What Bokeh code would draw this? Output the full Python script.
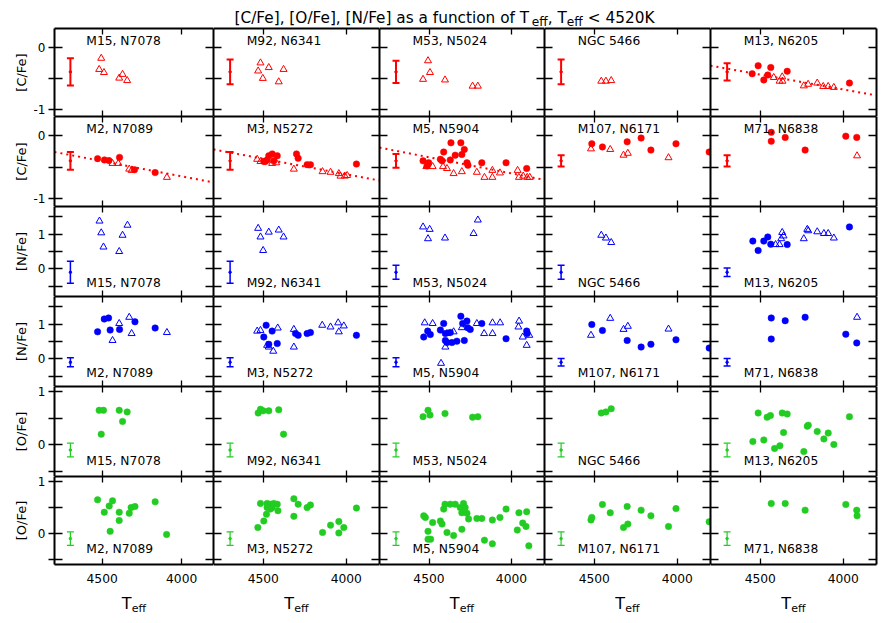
import math
from bokeh.plotting import figure
from bokeh.layouts import gridplot, column, row
from bokeh.models import (Range1d, LinearAxis, FixedTicker, Label, Whisker,
                          TeeHead, ColumnDataSource)
from bokeh.embed import file_html
from bokeh.resources import INLINE
from bokeh.core.properties import value

# ---------------------------------------------------------------- data
TOP_NAMES = ["M15, N7078", "M92, N6341", "M53, N5024", "NGC 5466", "M13, N6205"]
BOT_NAMES = ["M2, N7089", "M3, N5272", "M5, N5904", "M107, N6171", "M71, N6838"]

T_TICKS = [4500, 4000]
C_TICKS = [-1, -0.5, 0]
N_TICKS = [-0.5, 0, 0.5, 1, 1.5]
O_TICKS = [-0.5, 0, 0.5, 1]
C_LABELS = {-1: "-1", -0.5: "", 0: "0"}
N_LABELS = {-0.5: "", 0: "0", 0.5: "", 1: "1", 1.5: ""}
O_LABELS = {-0.5: "", 0: "0", 0.5: "", 1: "1"}

# representative error bars (Teff position, centre, half lengths per panel)
ERR_T = 4700
ERR_CENTER = {"C": -0.4, "N": -0.1, "O": -0.1}
C_ERR_TOP = [0.22, 0.20, 0.18, 0.20, 0.14]
C_ERR_BOT = [0.14, 0.14, 0.11, 0.09, 0.09]
N_ERR_TOP = [0.32, 0.32, 0.20, 0.20, 0.12]
N_ERR_BOT = [0.13, 0.13, 0.13, 0.11, 0.11]
O_ERR_TOP = [0.13, 0.13, 0.13, 0.13, 0.13]
O_ERR_BOT = [0.13, 0.13, 0.13, 0.13, 0.13]

# linear fits ([C/Fe] at the two ends of the Teff axis)
FIT_T = [4800, 3800]
FIT_M13 = [-0.30, -0.78]
FIT_M2 = [-0.26, -0.74]
FIT_M3 = [-0.22, -0.71]
FIT_M5 = [-0.19, -0.70]

M15 = dict(
    C_tri_T=[4519, 4506, 4489, 4393, 4372, 4343],
    C_tri=[-0.36, -0.18, -0.41, -0.50, -0.44, -0.54],
    N_tri_T=[4517, 4506, 4492, 4393, 4372, 4341],
    N_tri=[1.38, 1.04, 0.63, 0.50, 0.97, 1.26],
    O_circ_T=[4519, 4492, 4506, 4393, 4372, 4343],
    O_circ=[0.65, 0.65, 0.20, 0.65, 0.44, 0.62],
)
M92 = dict(
    C_tri_T=[4517, 4531, 4503, 4467, 4407, 4378],
    C_tri=[-0.255, -0.385, -0.505, -0.33, -0.56, -0.36],
    N_tri_T=[4531, 4517, 4501, 4467, 4407, 4378],
    N_tri=[1.17, 0.92, 0.53, 1.06, 1.12, 0.92],
    O_circ_T=[4531, 4517, 4501, 4467, 4407, 4378],
    O_circ=[0.60, 0.67, 0.64, 0.64, 0.66, 0.20],
)
M53 = dict(
    C_tri_T=[4506, 4536, 4494, 4403, 4236, 4204],
    C_tri=[-0.22, -0.52, -0.41, -0.53, -0.63, -0.63],
    N_tri_T=[4536, 4496, 4506, 4403, 4230, 4204],
    N_tri=[1.21, 1.14, 0.87, 0.89, 1.02, 1.41],
    O_circ_T=[4536, 4506, 4494, 4403, 4236, 4204],
    O_circ=[0.53, 0.65, 0.56, 0.59, 0.52, 0.53],
)
NGC5466 = dict(
    C_tri_T=[4458, 4430, 4398],
    C_tri=[-0.55, -0.55, -0.54],
    N_tri_T=[4458, 4430, 4398],
    N_tri=[0.97, 0.89, 0.76],
    O_circ_T=[4458, 4430, 4398],
    O_circ=[0.60, 0.62, 0.68],
)
M13 = dict(
    C_circ_T=[4513, 4549, 4479, 4455, 4437, 4338, 3963],
    C_circ=[-0.30, -0.43, -0.53, -0.45, -0.33, -0.39, -0.58],
    C_tri_T=[4419, 4384, 4368, 4366, 4238, 4212, 4157, 4121, 4091, 4057],
    C_tri=[-0.49, -0.55, -0.48, -0.55, -0.625, -0.60, -0.58, -0.635, -0.635, -0.65],
    N_circ_T=[4545, 4513, 4479, 4455, 4437, 4338, 3963],
    N_circ=[0.80, 0.53, 0.80, 0.92, 0.71, 0.70, 1.21],
    N_tri_T=[4408, 4384, 4374, 4368, 4360, 4238, 4217, 4211, 4157, 4117, 4091, 4057],
    N_tri=[0.70, 0.70, 0.87, 1.05, 0.95, 0.87, 1.14, 1.10, 1.07, 1.02, 1.02, 0.89],
    O_circ_T=[4513, 4459, 4439, 4368, 4338, 4360, 4545, 4479, 4414, 4382, 4238,
              4217, 4211, 4157, 4117, 4091, 4057, 3963],
    O_circ=[0.60, 0.52, 0.55, 0.60, 0.58, 0.23, 0.06, 0.09, -0.07, -0.02, -0.13,
            0.35, 0.37, 0.25, 0.11, 0.22, 0.005, 0.53],
)
M2 = dict(
    C_circ_T=[4529, 4486, 4458, 4391, 4297, 4167],
    C_circ=[-0.365, -0.385, -0.395, -0.345, -0.54, -0.585],
    C_tri_T=[4435, 4399, 4330, 4315, 4093],
    C_tri=[-0.44, -0.44, -0.53, -0.55, -0.66],
    N_circ_T=[4529, 4487, 4460, 4450, 4391, 4294, 4167],
    N_circ=[0.78, 1.15, 1.18, 0.83, 0.85, 1.07, 0.89],
    N_tri_T=[4435, 4393, 4330, 4315, 4093],
    N_tri=[0.53, 1.02, 1.20, 0.73, 0.76],
    O_circ_T=[4529, 4487, 4456, 4435, 4450, 4393, 4393, 4330, 4318, 4294, 4167, 4095],
    O_circ=[0.65, 0.41, 0.53, 0.63, 0.04, 0.41, 0.25, 0.39, 0.50, 0.52, 0.61, -0.02],
)
M3 = dict(
    C_circ_T=[4497, 4488, 4477, 4467, 4446, 4437, 4416, 4300, 4290, 4236, 4216, 3939],
    C_circ=[-0.41, -0.41, -0.385, -0.32, -0.29, -0.40, -0.32, -0.29, -0.36, -0.46, -0.46, -0.45],
    C_tri_T=[4537, 4517, 4447, 4422, 4316, 4143, 4095, 4045, 4035, 4009, 3995],
    C_tri=[-0.375, -0.41, -0.44, -0.43, -0.53, -0.57, -0.58, -0.60, -0.64, -0.64, -0.63],
    N_circ_T=[4483, 4497, 4447, 4467, 4416, 4306, 4290, 4236, 4216, 3939],
    N_circ=[0.97, 0.63, 0.80, 0.42, 0.44, 0.73, 0.68, 0.73, 0.76, 0.68],
    N_tri_T=[4537, 4517, 4477, 4467, 4440, 4413, 4316, 4316, 4145, 4095, 4049, 4045, 4015],
    N_tri=[0.80, 0.82, 0.39, 0.34, 0.22, 0.89, 0.85, 0.34, 0.97, 0.92, 1.04, 0.78, 0.95],
    O_circ_T=[4533, 4497, 4481, 4517, 4477, 4457, 4447, 4437, 4416, 4412, 4457, 4477,
              4316, 4316, 4290, 4236, 4216, 4143, 4095, 4045, 4045, 4015, 3939],
    O_circ=[0.115, 0.24, 0.37, 0.58, 0.58, 0.565, 0.50, 0.58, 0.565, 0.44, 0.47, 0.50,
            0.67, 0.33, 0.565, 0.50, 0.55, 0.02, 0.16, 0.23, 0.01, 0.115, 0.49],
)
M5 = dict(
    C_circ_T=[4536, 4512, 4502, 4431, 4411, 4421, 4367, 4307, 4286, 4301, 4341, 4371,
              4270, 4264, 4180, 4033, 3908],
    C_circ=[-0.40, -0.48, -0.43, -0.375, -0.26, -0.40, -0.115, -0.115, -0.22, -0.30,
            -0.31, -0.385, -0.43, -0.47, -0.43, -0.43, -0.52],
    C_tri_T=[4516, 4478, 4415, 4391, 4351, 4301, 4210, 4164, 4116, 4116, 4070, 3963,
             3955, 3929, 3905, 3889],
    C_tri=[-0.49, -0.49, -0.49, -0.52, -0.60, -0.57, -0.58, -0.66, -0.66, -0.55, -0.59,
           -0.55, -0.66, -0.64, -0.66, -0.66],
    N_circ_T=[4532, 4508, 4492, 4431, 4411, 4401, 4401, 4391, 4371, 4361, 4331, 4307,
              4296, 4286, 4270, 4266, 4250, 4180, 4033, 3908, 3905],
    N_circ=[0.63, 0.80, 0.70, 0.83, 1.02, 0.73, 0.53, 0.47, 0.76, 0.47, 0.51, 1.23,
            1.02, 0.53, 1.09, 0.90, 0.85, 1.02, 0.58, 0.80, 0.73],
    N_tri_T=[4526, 4478, 4427, 4401, 4391, 4351, 4301, 4210, 4166, 4115, 4115, 4069,
             3954, 3958, 3932, 3892, 3908],
    N_tri=[1.04, 1.02, -0.13, 0.34, 0.73, 0.78, 0.90, 1.02, 0.73, 1.04, 0.73, 1.04,
           1.09, 0.92, 0.63, 0.68, 0.39],
    O_circ_T=[4532, 4522, 4506, 4506, 4490, 4478, 4431, 4421, 4411, 4403, 4391, 4371,
              4351, 4341, 4311, 4301, 4291, 4281, 4301, 4270, 4260, 4210, 4180, 4164,
              4116, 4116, 4070, 4033, 3965, 3955, 3932, 3912, 3908, 3895],
    O_circ=[0.34, 0.31, 0.04, -0.11, -0.11, 0.21, 0.24, 0.18, 0.47, 0.565, 0.02, 0.565,
            -0.04, 0.565, 0.50, 0.08, 0.58, 0.50, 0.40, 0.39, 0.28, 0.29, 0.29, -0.13,
            0.26, -0.20, 0.31, 0.47, 0.065, 0.40, 0.20, 0.135, 0.42, -0.24],
)
M107 = dict(
    C_circ_T=[4515, 4451, 4302, 4218, 4159, 4008, 3808],
    C_circ=[-0.13, -0.18, -0.10, -0.04, -0.23, -0.13, -0.26],
    C_tri_T=[4520, 4404, 4324, 4298, 4053],
    C_tri=[-0.21, -0.22, -0.31, -0.28, -0.35],
    N_circ_T=[4515, 4451, 4302, 4218, 4159, 4008, 3808],
    N_circ=[0.99, 0.82, 0.53, 0.34, 0.42, 0.55, 0.31],
    N_tri_T=[4520, 4404, 4324, 4298, 4053],
    N_tri=[0.68, 1.17, 0.85, 0.94, 0.86],
    O_circ_T=[4520, 4515, 4451, 4404, 4324, 4298, 4302, 4218, 4159, 4053, 4008, 3808],
    O_circ=[0.26, 0.31, 0.56, 0.40, 0.115, 0.18, 0.52, 0.45, 0.34, 0.135, 0.48, 0.225],
)
M71 = dict(
    C_circ_T=[4434, 4434, 4350, 4230, 3985, 3919],
    C_circ=[0.05, -0.09, -0.03, -0.23, -0.01, -0.03],
    C_tri_T=[3917],
    C_tri=[-0.32],
    N_circ_T=[4434, 4434, 4350, 4230, 3985, 3919],
    N_circ=[1.18, 0.57, 1.10, 1.20, 0.71, 0.46],
    N_tri_T=[3917],
    N_tri=[1.20],
    O_circ_T=[4434, 4350, 4230, 3985, 3919, 3917],
    O_circ=[0.58, 0.58, 0.45, 0.56, 0.45, 0.34],
)

TOP_DATA = [M15, M92, M53, NGC5466, M13]
BOT_DATA = [M2, M3, M5, M107, M71]
TOP_FITS = [None, None, None, None, FIT_M13]
BOT_FITS = [FIT_M2, FIT_M3, FIT_M5, None, None]

# ---------------------------------------------------------------- style
FONT = "DejaVu Sans"
COLORS = {"C": "#ff0000", "N": "#0000ff", "O": "#22cc22"}
ERR_W = {"C": 2.0, "N": 1.5, "O": 1.2}
YR = {"C": (-1.12, 0.3), "N": (-0.8, 1.8), "O": (-0.6, 1.1)}
YTICKS = {"C": (C_TICKS, C_LABELS), "N": (N_TICKS, N_LABELS), "O": (O_TICKS, O_LABELS)}
YTITLE = {"C": "[C/Fe]", "N": "[N/Fe]", "O": "[O/Fe]"}
KINDS = ["C", "C", "N", "N", "O", "O"]
NAME_Y = {"C": 0.1, "N": -0.4, "O": -0.3}
NAME_T = 4600
X_RANGE = (4800, 3800)

FW = [159, 166, 165, 166, 166]
FH = [88, 90, 90, 90, 90, 88]
YLAB_W = 30
LEFT0, RIGHT4, TOP0, BOTTOM5 = 24, 2, 1, 24
TITLE_H = 27
XLAB_H = 30

ADV = {' ': 0.318, '[': 0.390, ']': 0.390, 'C': 0.698, '/': 0.337, 'F': 0.575,
       'e': 0.615, ',': 0.318, 'O': 0.787, 'N': 0.748, 'a': 0.613, 's': 0.521,
       'f': 0.352, 'u': 0.634, 'n': 0.634, 'c': 0.550, 't': 0.392, 'i': 0.278,
       'o': 0.612, 'T': 0.611, '<': 0.838, 'K': 0.656}


def text_w(s, size):
    return sum(ADV.get(ch, 0.636) for ch in s) * size


def add_axis(p, side, ticks, overrides, show, t_in, t_out, size="12px", standoff=0):
    ax = LinearAxis(ticker=FixedTicker(ticks=ticks, minor_ticks=[]),
                    major_tick_in=t_in, major_tick_out=t_out,
                    minor_tick_in=0, minor_tick_out=0,
                    axis_line_color="black", axis_line_width=2,
                    major_tick_line_color="black", major_tick_line_width=1.3)
    if show:
        ax.major_label_overrides = overrides
        ax.major_label_text_font = FONT
        ax.major_label_text_font_size = size
        ax.major_label_text_color = "black"
        ax.major_label_standoff = standoff
    else:
        ax.major_label_overrides = {t: "" for t in ticks}
        ax.major_label_text_font_size = "0px"
        ax.major_label_standoff = 0
    p.add_layout(ax, side)


def blank_fig(w, h):
    f = figure(width=w, height=h, x_range=Range1d(0, w), y_range=Range1d(0, h),
               x_axis_location=None, y_axis_location=None, toolbar_location=None,
               output_backend="svg", min_border=0, outline_line_color=None,
               border_fill_color="white", background_fill_color="white")
    f.xgrid.visible = False
    f.ygrid.visible = False
    return f


def make_panel(r, c):
    kind = KINDS[r]
    top = (r % 2 == 0)
    names = TOP_NAMES if top else BOT_NAMES
    data = (TOP_DATA if top else BOT_DATA)[c]
    fit = (TOP_FITS if top else BOT_FITS)[c] if kind == "C" else None
    err = {"C": (C_ERR_TOP, C_ERR_BOT), "N": (N_ERR_TOP, N_ERR_BOT),
           "O": (O_ERR_TOP, O_ERR_BOT)}[kind][0 if top else 1][c]
    col = COLORS[kind]
    lo, hi = YR[kind]
    fw, fh = FW[c], FH[r]
    L = LEFT0 if c == 0 else 0
    R = RIGHT4 if c == 4 else 0
    T = TOP0 if r == 0 else 0
    B = BOTTOM5 if r == 5 else 0
    p = figure(width=fw + L + R, height=fh + T + B,
               x_range=Range1d(*X_RANGE), y_range=Range1d(lo, hi),
               x_axis_location=None, y_axis_location=None,
               toolbar_location=None, output_backend="svg",
               min_border_left=L, min_border_right=R,
               min_border_top=T, min_border_bottom=B,
               outline_line_color=None, background_fill_color="white",
               border_fill_color="white")
    p.xgrid.visible = False
    p.ygrid.visible = False
    yt, ylab = YTICKS[kind]
    add_axis(p, "left", yt, ylab, c == 0, 8, 6 if c == 0 else 0, standoff=3)
    add_axis(p, "right", yt, ylab, False, 8, 0)
    add_axis(p, "below", T_TICKS, {4500: "4500", 4000: "4000"}, r == 5, 6, 0,
             size="12.3px", standoff=9)
    add_axis(p, "above", T_TICKS, {}, False, 6, 0)

    if fit is not None:
        p.line(FIT_T, fit, line_color=col, line_width=2, line_dash="2 4")
    src = ColumnDataSource(dict(x=[ERR_T], lower=[ERR_CENTER[kind] - err],
                                upper=[ERR_CENTER[kind] + err]))
    w = ERR_W[kind]
    p.add_layout(Whisker(base="x", lower="lower", upper="upper", source=src,
                         dimension="height", line_color=col, line_width=w,
                         upper_head=TeeHead(size=7, line_color=col, line_width=w),
                         lower_head=TeeHead(size=7, line_color=col, line_width=w)))
    p.scatter([ERR_T], [ERR_CENTER[kind]], size=2.5, color=col)
    if kind + "_tri" in data:
        p.scatter(data[kind + "_tri_T"], data[kind + "_tri"], marker="triangle",
                  size=7, fill_color=None, line_color=col, line_width=1)
    if kind + "_circ" in data:
        p.scatter(data[kind + "_circ_T"], data[kind + "_circ"], marker="circle",
                  size=6.5, fill_color=col, line_color=col, line_width=0.5)
    p.text(x=[NAME_T], y=[NAME_Y[kind]], text=[names[c]], text_font=value(FONT),
           text_font_size="12.3px", text_align="left", text_baseline="middle",
           text_color="black")
    return p


grid = [[make_panel(r, c) for c in range(5)] for r in range(6)]
gp = gridplot(grid, toolbar_location=None)

total_w = YLAB_W + LEFT0 + sum(FW) + RIGHT4
grid_h = TOP0 + sum(FH) + BOTTOM5

# title (pieces placed side by side; subscripts lowered)
tp = blank_fig(total_w, TITLE_H)
TS, SS = 15.3, 12.2
pieces = [("[C/Fe], [O/Fe], [N/Fe] as a function of T", TS, 0, 0.0),
          ("eff", SS, -3.5, 0.0), (", T", TS, 0, 0.0), ("eff", SS, -3.5, 0.0),
          ("< 4520K", TS, 0, text_w(" ", TS))]
x = 234.0
base = TITLE_H - 17.5
for s, size, dy, pre in pieces:
    x += pre
    tp.add_layout(Label(x=x, y=base + dy, text=s, text_align="left",
                        text_baseline="alphabetic", text_font=FONT,
                        text_font_size=f"{size}px", text_color="black"))
    x += text_w(s, size)

# y-axis titles
yl = blank_fig(YLAB_W, grid_h)
for r in range(6):
    frame_top = TOP0 + sum(FH[:r])
    centre = frame_top + FH[r] / 2
    yl.add_layout(Label(x=20.7, y=grid_h - centre, text=YTITLE[KINDS[r]],
                        angle=math.pi / 2, text_align="center", text_baseline="middle",
                        text_font=FONT, text_font_size="13px", text_color="black"))

# x-axis titles
xl = blank_fig(total_w, XLAB_H)
left = YLAB_W + LEFT0
for c in range(5):
    cx = left + sum(FW[:c]) + FW[c] / 2
    tw = text_w("T", 16)
    ew = text_w("eff", 11)
    x0 = cx - (tw + ew) / 2
    xl.add_layout(Label(x=x0, y=XLAB_H - 15.3, text="T", text_align="left",
                        text_baseline="alphabetic", text_font=FONT,
                        text_font_size="16px", text_color="black"))
    xl.add_layout(Label(x=x0 + tw, y=XLAB_H - 20.0, text="eff", text_align="left",
                        text_baseline="alphabetic", text_font=FONT,
                        text_font_size="11px", text_color="black"))

layout = column(tp, row(yl, gp), xl)
open("out.html", "w").write(file_html(layout, INLINE))
